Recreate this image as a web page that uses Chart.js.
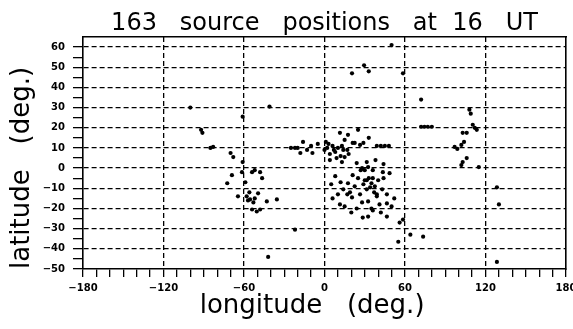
<!DOCTYPE html>
<html>
<head>
<meta charset="utf-8">
<script src="https://cdn.jsdelivr.net/npm/chart.js@4/dist/chart.umd.min.js"></script>
<style>
  body { margin: 0; background: #fff; }
</style>
</head>
<body>
<canvas id="c" width="573" height="329"></canvas>
<script>
// source positions (deg.)
const lon = [
  50, 20.5, 29.5, 33, 58.5, 72, -100, -41, -61, -92, -91, 108, 109, 72, 74.5, 77, 80, 103, 106, 110.5, 113.5, 112,
  97, 99, 102, 104, 103, 106, 102, 115, 128.5, 130, 128.5, 73.5, 64, 58.5, 55, 56,
  -83, -85, -70, -68, -61, -61.5, -54, -52, -48, -46.5, -69, -72.5, -59, -64.5, -58, -55.5, -52, -49.5,
  -43, -35.5, -54, -50.5, -48, -57, -53, -22, -42, -56,
  11.5, 17.5, 25, -16, -25, -22, -20, -18, -13, -9, 2, 3, 4, 6, 8, 10, 12, 13, 14, 4, 9, 13,
  21, 22.5, 26.5, 29, 15, 39, 42, 45, 48, 24, 31.5, 32.5, 36, 30, 43.5, 48.5, 21, 7, 0, 18, 33,
  31.5, 35, 34, 37.5, 17.5, 22.5, 43, 46.5, 26.5, 14, 17, 10, 19, 20.5, 11.5, 15, 28, 32.5, 39, 41,
  46.5, 50, 31.5, 39, 28.5, 32.5, 46.5, 30, 33, 36, 29, 25, 40, 8, 5, 12, 37, 24, 20, 35, 42,
  27, 38, 44, 15, -5, 1, 17, -10, 52, 36, 44, 6, 28
];
const lat = [
  61, 47, 51, 48, 47, 34, 30, 30.5, 25.5, 19, 17.5, 29, 27, 20.5, 20.5, 20.5, 20.5, 17.5, 17.5, 21.5, 19, 20,
  10.5, 9.5, 11.5, 13, 3, 5, 1.5, 0.5, -9.5, -18, -46.5, -34, -33, -25.5, -36.5, -27,
  10.5, 10, 7.5, 5.5, 3, -2, -2, -1, -2, -5, -3.5, -7.5, -7, -14, -14, -15.5, -15, -12.5,
  -16.5, -15.5, -20.5, -21.5, -20.5, -16, -17, -30.5, -44, -12,
  17.5, 16.5, 19, 13, 10, 10, 10, 7.5, 9, 7.5, 10, 12, 7, 11, 8, 10, 6, 11, 9, 4, 5, 3,
  12.5, 12.5, 11.5, 12.5, 5.5, 11, 11, 11, 11, 2.5, 3, 0.5, -1, -1, -2, -2.5, -3.5, 9, 9, 7, 15,
  -6, -7.5, -9.5, -9, -7.5, -9, -10.5, -13, -13, -10.5, -13, -13, -12, -14.5, -18, -19, -17, -16.5, -14, -18,
  -17.5, -19, -10.5, -13, -24.5, -24, -24, -6, -5, -5, -8, -5, -6, -4, -8, -7, -12, -20, -22, -20, -22,
  -1, 4, 2, 14, 12, 13, 9, 11, -15, -21, -5, -15, 0
];

const xLabelValues = [-180, -120, -60, 0, 60, 120, 180];
const xGridValues = [-120, -60, 0, 60, 120];
const yLabelValues = [60, 50, 40, 30, 20, 10, 0, -10, -20, -30, -40, -50];
const yGridValues = [60, 50, 40, 30, 20, 10, 0, -10, -20, -30, -40];

// wide word spacing as in the original lettering
const titleText = '163   source   positions   at  16   UT';
const xTitle = 'longitude   (deg.)   ';
const yTitle = 'latitude   (deg.)';

const points = lon.map((x, i) => ({ x: x, y: lat[i] }));

const fmt = (v) => String(v).replace('-', '\u2212');

const titleFont = { family: 'DejaVu Sans', size: 24, lineHeight: 1.2 };
const axisFont = { family: 'DejaVu Sans', size: 26, lineHeight: 1.2 };
const tickFont = { family: 'DejaVu Sans', size: 10, weight: 'bold' };

new Chart(document.getElementById('c').getContext('2d'), {
  type: 'scatter',
  data: {
    datasets: [{
      data: points,
      backgroundColor: '#000',
      borderWidth: 0,
      pointRadius: 2.1,
      pointHoverRadius: 2.1,
    }],
  },
  options: {
    responsive: false,
    animation: false,
    devicePixelRatio: 1,
    plugins: {
      legend: { display: false },
      tooltip: { enabled: false },
    },
    scales: {
      x: {
        type: 'linear',
        position: 'bottom',
        min: -180,
        max: 180,
        afterFit: (s) => { s.height = 60; s.paddingLeft = 0; s.paddingRight = 0; },
        ticks: {
          stepSize: 10,
          autoSkip: false,
          maxRotation: 0,
          padding: 5,
          color: '#000',
          font: tickFont,
          callback: (v) => xLabelValues.includes(v) ? fmt(v) : '',
        },
        grid: {
          lineWidth: 1.3,
          color: (ctx) => xGridValues.includes(ctx.tick && ctx.tick.value) ? '#000' : 'rgba(0,0,0,0)',
          tickColor: '#000',
          tickLength: 8,
          tickWidth: 1.3,
        },
        border: { display: true, color: '#000', width: 1.6, dash: [5, 3] },
        title: {
          display: true,
          text: xTitle,
          color: '#000',
          font: axisFont,
          padding: { top: 0, bottom: 7 },
        },
      },
      x2: {
        type: 'linear',
        position: 'top',
        min: -180,
        max: 180,
        afterFit: (s) => { s.height = 37; },
        ticks: { display: false },
        grid: { display: false },
        border: { display: true, color: '#000', width: 1.6 },
        title: {
          display: true,
          text: titleText,
          color: '#000',
          font: titleFont,
          padding: { top: 9, bottom: 0 },
        },
      },
      y: {
        type: 'linear',
        position: 'left',
        min: -50,
        max: 65,
        afterFit: (s) => { s.width = 83; },
        afterBuildTicks: (s) => { s.ticks = s.ticks.filter((t) => t.value <= 60); },
        ticks: {
          stepSize: 5,
          autoSkip: false,
          padding: 8,
          color: '#000',
          font: tickFont,
          callback: (v) => yLabelValues.includes(v) ? fmt(v) : '',
        },
        grid: {
          lineWidth: 1.3,
          color: (ctx) => yGridValues.includes(ctx.tick && ctx.tick.value) ? '#000' : 'rgba(0,0,0,0)',
          tickColor: '#000',
          tickLength: 10,
          tickWidth: 1.3,
        },
        border: { display: true, color: '#000', width: 1.6, dash: [5, 3] },
        title: {
          display: true,
          text: yTitle,
          align: 'start',
          color: '#000',
          font: axisFont,
          padding: { top: 7, bottom: 0 },
        },
      },
      y2: {
        type: 'linear',
        position: 'right',
        min: -50,
        max: 65,
        afterFit: (s) => { s.width = 7; },
        ticks: { display: false },
        grid: { display: false },
        border: { display: true, color: '#000', width: 1.6 },
      },
    },
  },
});
</script>
</body>
</html>
